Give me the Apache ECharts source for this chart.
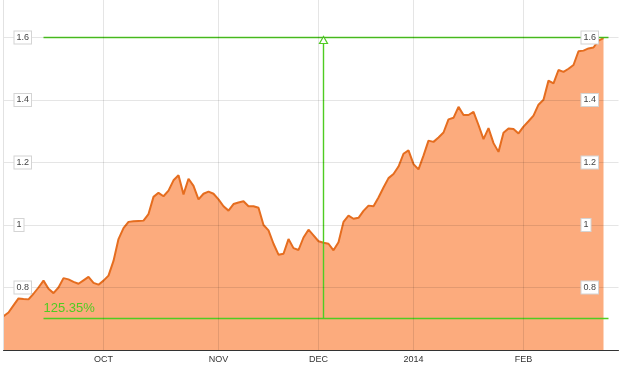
<!DOCTYPE html>
<html>
<head>
<meta charset="utf-8">
<script src="https://cdn.jsdelivr.net/npm/echarts@6/dist/echarts.min.js"></script>
<style>
html,body{margin:0;padding:0;background:#fff;}
#chart{width:622px;height:365px;}
</style>
</head>
<body>
<div id="chart"></div>
<script>
// series values (one per trading day)
const values = [
0.708,0.72,0.743,0.765,0.763,0.762,0.78,0.80,0.822,0.796,
0.782,0.80,0.83,0.826,0.818,0.812,0.823,0.834,0.815,0.809,
0.822,0.838,0.885,0.955,0.99,1.01,1.012,1.013,1.014,1.035,
1.09,1.103,1.092,1.11,1.143,1.159,1.098,1.148,1.125,1.082,
1.1,1.107,1.1,1.082,1.06,1.046,1.067,1.072,1.076,1.06,
1.06,1.055,1.0,0.983,0.94,0.905,0.908,0.955,0.926,0.92,
0.96,0.985,0.967,0.948,0.943,0.94,0.919,0.945,1.01,1.03,
1.02,1.023,1.045,1.062,1.06,1.088,1.12,1.15,1.163,1.187,
1.228,1.239,1.195,1.178,1.222,1.27,1.266,1.28,1.296,1.338,
1.343,1.378,1.352,1.352,1.362,1.32,1.275,1.31,1.262,1.234,
1.295,1.309,1.307,1.293,1.315,1.332,1.35,1.385,1.401,1.462,
1.453,1.496,1.49,1.5,1.512,1.556,1.558,1.565,1.568,1.59,
1.598
];
// x tick labels and the category index where each sits
const monthLabels = ['OCT','NOV','DEC','2014','FEB'];
const monthIdx = [20,43,63,82,104];
const categoryCount = 124;
// y axis range
const yMin = 0.6, yMax = 1.72, yStep = 0.2;
// annotation
const topLevel = 1.6;
const baseLevel = 0.7008;
const annoStartIdx = 8;
const annoEndIdx = 121;
const arrowIdx = 64;
const changeText = '125.35%';

const categories = [];
for (let i = 0; i < categoryCount; i++) categories.push('');
monthIdx.forEach((idx, k) => { categories[idx] = monthLabels[k]; });

const FONT = 'Liberation Sans, Arial, sans-serif';
const GREEN = '#4fcc22';
const gridColor = 'rgba(0,0,0,0.10)';

const chart = echarts.init(document.getElementById('chart'), null, {renderer: 'canvas'});
const yLabelBase = {
  inside: true,
  color: '#444',
  fontSize: 9,
  fontFamily: FONT,
  backgroundColor: '#fff',
  borderColor: '#d4d4d4',
  borderWidth: 1,
  padding: [2, 2, 1, 2],
  showMinLabel: false,
  showMaxLabel: false,
  formatter: v => String(Math.round(v * 10) / 10)
};

function renderAnnotation(params, api) {
  const s = api.value(0), e = api.value(1), a = api.value(2);
  const lo = api.value(3), hi = api.value(4);
  const pTopS = api.coord([s, hi]), pTopE = api.coord([e, hi]);
  const pBotS = api.coord([s, lo]), pBotE = api.coord([e, lo]);
  const pArB = api.coord([a, lo]), pArT = api.coord([a, hi]);
  const st = {stroke: GREEN, lineWidth: 1.4, fill: null};
  return {
    type: 'group',
    children: [
      {type: 'line', shape: {x1: pTopS[0], y1: pTopS[1], x2: pTopE[0], y2: pTopE[1]}, style: st},
      {type: 'line', shape: {x1: pBotS[0], y1: pBotS[1], x2: pBotE[0], y2: pBotE[1]}, style: st},
      {type: 'line', shape: {x1: pArB[0], y1: pArB[1], x2: pArT[0], y2: pArT[1] + 6}, style: st},
      {type: 'polygon', shape: {points: [[pArT[0], pArT[1] - 1], [pArT[0] - 4, pArT[1] + 6], [pArT[0] + 4, pArT[1] + 6]]},
       style: {stroke: GREEN, lineWidth: 1.2, fill: '#fff'}},
      {type: 'text', x: pBotS[0], y: pBotS[1] - 4,
       style: {text: changeText, fill: GREEN, font: '13px ' + FONT, textAlign: 'left', textVerticalAlign: 'bottom'}}
    ]
  };
}

chart.setOption({
  animation: false,
  grid: {left: 3.5, right: 3.5, top: 0, bottom: 15, containLabel: false},
  xAxis: {
    type: 'category',
    data: categories,
    boundaryGap: false,
    z: 5,
    axisLine: {show: true, onZero: false, lineStyle: {color: '#333', width: 1}},
    axisTick: {show: false},
    axisLabel: {
      interval: (i, v) => v !== '',
      color: '#333', fontSize: 9, fontFamily: FONT, margin: 5
    },
    splitLine: {show: true, interval: (i, v) => v !== '', lineStyle: {color: gridColor, width: 1}}
  },
  yAxis: [{
    type: 'value',
    position: 'left',
    min: yMin, max: yMax, interval: yStep,
    z: 5,
    axisLine: {show: true, lineStyle: {color: '#e2e2e2'}},
    axisTick: {show: false},
    axisLabel: Object.assign({}, yLabelBase, {margin: 11, align: 'left'}),
    splitLine: {show: true, showMinLine: false, showMaxLine: false, lineStyle: {color: gridColor, width: 1}}
  }, {
    type: 'value',
    position: 'right',
    min: yMin, max: yMax, interval: yStep,
    z: 5,
    axisLine: {show: false},
    axisTick: {show: false},
    axisLabel: Object.assign({}, yLabelBase, {margin: 37, align: 'left'}),
    splitLine: {show: false}
  }],
  series: [{
    type: 'line',
    data: values,
    z: 2,
    symbol: 'none',
    smooth: false,
    lineStyle: {color: '#e56d1f', width: 2},
    areaStyle: {color: '#fcab7d', opacity: 1, origin: 'start'}
  }, {
    type: 'custom',
    z: 4,
    silent: true,
    clip: false,
    renderItem: renderAnnotation,
    encode: {x: 0, y: 4},
    data: [[annoStartIdx, annoEndIdx, arrowIdx, baseLevel, topLevel]]
  }]
});
</script>
</body>
</html>
